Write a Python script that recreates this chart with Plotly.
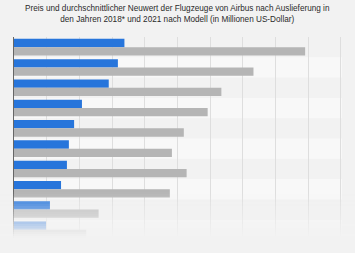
import plotly.graph_objects as go

categories = ["A380", "A350-1000", "A350-900", "A330-900", "A330-800",
              "A330-200F", "A330-300", "A330-200", "A321neo", "A320neo"]
neuwert_2021 = [169, 159, 145, 104, 92, 84, 81, 72, 55, 49]
preis_2018 = [445.6, 366.5, 317.4, 296.4, 259.9, 241.7, 264.2, 238.5, 129.5, 110.6]

BG = "#f2f2f2"
W, H = 355, 253
ML, MR, MT, MB = 14, 13, 37, 13
PH = H - MT - MB

fig = go.Figure()
fig.add_trace(go.Bar(y=categories, x=neuwert_2021, orientation="h",
                     marker=dict(color="#2775db", line=dict(width=0)), name="2021"))
fig.add_trace(go.Bar(y=categories, x=preis_2018, orientation="h",
                     marker=dict(color="#b5b5b5", line=dict(width=0)), name="2018"))

shapes = []
for i, c in enumerate(categories):
    if i % 2 == 1:
        shapes.append(dict(type="rect", xref="paper", yref="y", x0=0, x1=1,
                           y0=i - 0.5, y1=i + 0.5, fillcolor="#f8f8f8",
                           line=dict(width=0), layer="between"))

# bottom fade overlay
y_start, y_end = 192, 240
n = 24
step = (y_end - y_start) / n
for k in range(n):
    top = y_start + k * step
    bot = top + step
    op = min(1.0, (k + 0.5) / n * 1.05)
    shapes.append(dict(type="rect", xref="paper", yref="paper", x0=-0.05, x1=1.05,
                       y0=(MT + PH - bot) / PH, y1=(MT + PH - top) / PH,
                       fillcolor=BG, opacity=op, line=dict(width=0), layer="above"))

title_text = ("Preis und durchschnittlicher Neuwert der Flugzeuge von Airbus nach Auslieferung in<br>"
              "den Jahren 2018* und 2021 nach Modell (in Millionen US-Dollar)")

fig.update_layout(
    width=W, height=H,
    margin=dict(l=ML, r=MR, t=MT, b=MB),
    paper_bgcolor=BG, plot_bgcolor=BG,
    barmode="group", bargap=0.18, bargroupgap=0,
    showlegend=False,
    annotations=[dict(text=title_text, xref="paper", yref="paper",
                      x=(177.5 - ML) / (W - ML - MR), y=(MT + PH - 1.5) / PH,
                      xanchor="center", yanchor="top", showarrow=False,
                      align="center",
                      font=dict(family="Liberation Sans, Arial, sans-serif", size=8.2,
                                color="#2a2a2a"))],
    xaxis=dict(range=[0, 502], tickmode="linear", tick0=0, dtick=50,
               showticklabels=False, showgrid=True,
               gridcolor="#dedede", gridwidth=1, zeroline=False,
               fixedrange=True),
    yaxis=dict(autorange="reversed", showticklabels=False, showgrid=False,
               showline=True, linecolor="#666666", linewidth=1, ticks="",
               zeroline=False),
    shapes=shapes,
)

fig.write_html("out.html")
